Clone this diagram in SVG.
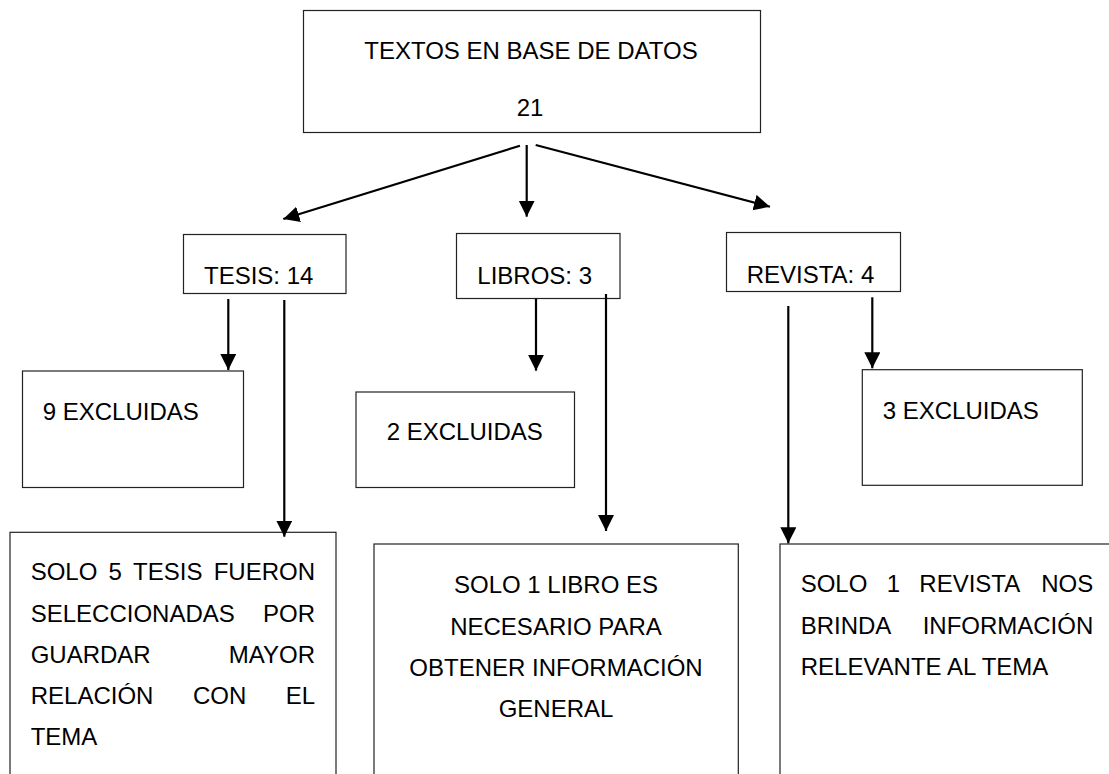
<svg xmlns="http://www.w3.org/2000/svg" width="1109" height="774" viewBox="0 0 1109 774">
<defs>
<style>
.box{fill:#fff;stroke:#222;stroke-width:1.2}
.t{font-family:"Liberation Sans",Arial,sans-serif;font-size:24px;fill:#000}
.c{text-anchor:middle}
.e{text-anchor:end}
.ln{stroke:#000;stroke-width:2;fill:none}
.ar{stroke:#000;stroke-width:2.2;fill:none;marker-end:url(#ah)}
</style>
<marker id="ah" markerUnits="userSpaceOnUse" markerWidth="18" markerHeight="18" refX="16" refY="8" orient="auto" viewBox="0 0 18 18">
<path d="M0,0 L16,8 L0,16 z" fill="#000"/>
</marker>
</defs>
<rect width="1109" height="774" fill="#fff"/>
<g id="n-textos">
<rect class="box" x="303.5" y="10.5" width="457" height="122"/>
<text class="t c" x="531" y="59">TEXTOS EN BASE DE DATOS</text>
<text class="t c" x="530" y="116">21</text>
</g>
<g id="n-tesis">
<rect class="box" x="183.5" y="234.5" width="162.5" height="59"/>
<text class="t" x="204" y="283.5">TESIS: 14</text>
</g>
<g id="n-libros">
<rect class="box" x="456.5" y="233.5" width="163.5" height="65"/>
<text class="t" x="477.3" y="283.5">LIBROS: 3</text>
</g>
<g id="n-revista">
<rect class="box" x="726.5" y="232.5" width="174" height="59"/>
<text class="t" x="746.7" y="283">REVISTA: 4</text>
</g>
<g id="n-9excl">
<rect class="box" x="22.5" y="371" width="221" height="116.5"/>
<text class="t" x="42.7" y="419.5">9 EXCLUIDAS</text>
</g>
<g id="n-2excl">
<rect class="box" x="356" y="392" width="218.5" height="95.5"/>
<text class="t" x="386.7" y="440">2 EXCLUIDAS</text>
</g>
<g id="n-3excl">
<rect class="box" x="862.3" y="369.7" width="220" height="115.6"/>
<text class="t" x="882.7" y="418.5">3 EXCLUIDAS</text>
</g>
<g id="n-5tesis">
<rect class="box" x="10" y="532.3" width="326" height="260"/>
<text class="t" y="580"><tspan x="30.7">SOLO</tspan><tspan x="108.6">5</tspan><tspan x="133.1">TESIS</tspan><tspan x="213.7">FUERON</tspan></text>
<text class="t" x="30.7" y="621.7">SELECCIONADAS</text>
<text class="t e" x="315" y="621.7">POR</text>
<text class="t" x="30.7" y="663.3">GUARDAR</text>
<text class="t e" x="315" y="663.3">MAYOR</text>
<text class="t" y="704"><tspan x="30.7">RELACIÓN</tspan><tspan x="192.9">CON</tspan></text>
<text class="t e" x="315" y="704">EL</text>
<text class="t" x="30.7" y="745">TEMA</text>
</g>
<g id="n-1libro">
<rect class="box" x="374" y="544" width="364.3" height="250"/>
<text class="t c" x="556" y="592.5">SOLO 1 LIBRO ES</text>
<text class="t c" x="556" y="634.5">NECESARIO PARA</text>
<text class="t c" x="556" y="676">OBTENER INFORMACIÓN</text>
<text class="t c" x="556" y="717">GENERAL</text>
</g>
<g id="n-1revista">
<rect class="box" x="780" y="544" width="360" height="250"/>
<text class="t" y="592.3"><tspan x="800.7">SOLO</tspan><tspan x="886.7">1</tspan><tspan x="919.3">REVISTA</tspan></text>
<text class="t e" x="1093.3" y="592.3">NOS</text>
<text class="t" x="800.7" y="634">BRINDA</text>
<text class="t e" x="1093.3" y="634">INFORMACIÓN</text>
<text class="t" x="800.7" y="675">RELEVANTE AL TEMA</text>
</g>
<g id="connectors">
<line class="ar" x1="526.7" y1="145" x2="526.7" y2="216.7"/>
<line class="ar" x1="520" y1="145.7" x2="283.3" y2="219"/>
<line class="ar" x1="535.7" y1="145" x2="770" y2="206.7"/>
<line class="ar" x1="228.3" y1="299" x2="228.3" y2="370"/>
<line class="ar" x1="284.3" y1="300" x2="284.3" y2="536.7"/>
<line class="ar" x1="536" y1="298.7" x2="536" y2="370.7"/>
<line class="ar" x1="606" y1="294" x2="606" y2="531"/>
<line class="ar" x1="788.3" y1="306" x2="788.3" y2="543.3"/>
<line class="ar" x1="872.3" y1="297.3" x2="872.3" y2="368.3"/>
</g>
</svg>
